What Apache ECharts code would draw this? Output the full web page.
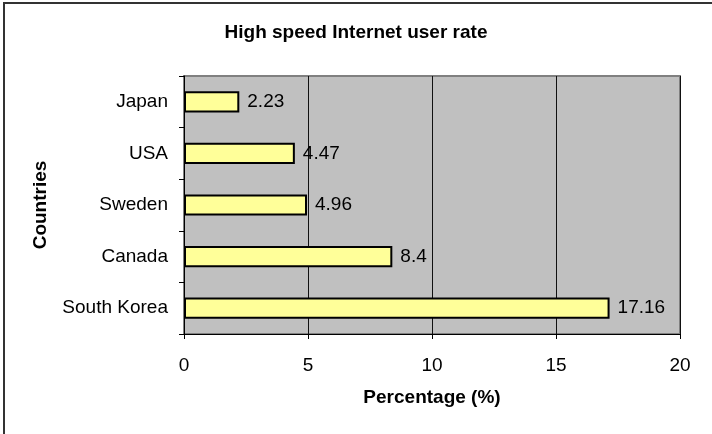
<!DOCTYPE html>
<html>
<head>
<meta charset="utf-8">
<script src="https://cdn.jsdelivr.net/npm/echarts@6/dist/echarts.min.js"></script>
<style>
  html, body { margin: 0; padding: 0; background: #fff; }
  #chart { width: 712px; height: 434px; }
</style>
</head>
<body>
<div id="chart"></div>
<script>
var countries = ['Japan', 'USA', 'Sweden', 'Canada', 'South Korea'];
var rates = [2.23, 4.47, 4.96, 8.4, 17.16];
var labelText = ['2.23', '4.47', '4.96', '8.4', '17.16'];

var dom = document.getElementById("chart");
var myChart = echarts.init(dom);
var font = 'Liberation Sans, Arial, sans-serif';

option = {
    backgroundColor: '#fff',
    animation: false,
    title: {
        text: 'High speed Internet user rate',
        left: 'center',
        top: 18,
        textStyle: { fontFamily: font, fontSize: 19, fontWeight: 'bold', color: '#000' }
    },
    // outer frame, only top/left edges fall inside the picture
    graphic: [{
        type: 'rect',
        shape: { x: 4, y: 3, width: 740, height: 460 },
        style: { fill: 'none', stroke: '#333', lineWidth: 2 },
        silent: true
    }],
    grid: {
        left: 184,
        right: 32,
        top: 76,
        bottom: 100,
        show: true,
        backgroundColor: '#c0c0c0',
        borderColor: '#808080',
        borderWidth: 2
    },
    xAxis: {
        type: 'value',
        min: 0,
        max: 20,
        interval: 5,
        name: 'Percentage (%)',
        nameLocation: 'middle',
        nameGap: 54,
        nameTextStyle: { fontFamily: font, fontSize: 19, fontWeight: 'bold', color: '#000' },
        axisLine: { show: true, lineStyle: { color: '#000', width: 1 } },
        axisTick: { show: true, length: 5, lineStyle: { color: '#000' } },
        axisLabel: { fontFamily: font, fontSize: 19, color: '#000', margin: 22 },
        splitLine: { show: true, lineStyle: { color: '#111', width: 1 } }
    },
    yAxis: {
        type: 'category',
        data: countries,
        inverse: true,
        name: 'Countries',
        nameLocation: 'middle',
        nameGap: 134,
        nameRotate: 90,
        nameTextStyle: { fontFamily: font, fontSize: 19, fontWeight: 'bold', color: '#000' },
        axisLine: { show: true, lineStyle: { color: '#000', width: 1 } },
        axisTick: { show: true, length: 5, lineStyle: { color: '#000' } },
        axisLabel: { fontFamily: font, fontSize: 19, color: '#000', margin: 16 },
        splitLine: { show: false }
    },
    series: [{
        type: 'bar',
        data: rates,
        barCategoryGap: '59%',
        itemStyle: { color: '#ffff99', borderColor: '#000', borderWidth: 2 },
        label: {
            show: true,
            position: 'right',
            distance: 8,
            fontFamily: font,
            fontSize: 19,
            color: '#000',
            formatter: function (p) { return labelText[p.dataIndex]; }
        }
    }]
};
if (option && typeof option === "object") {
    myChart.setOption(option, true);
}
</script>
</body>
</html>
